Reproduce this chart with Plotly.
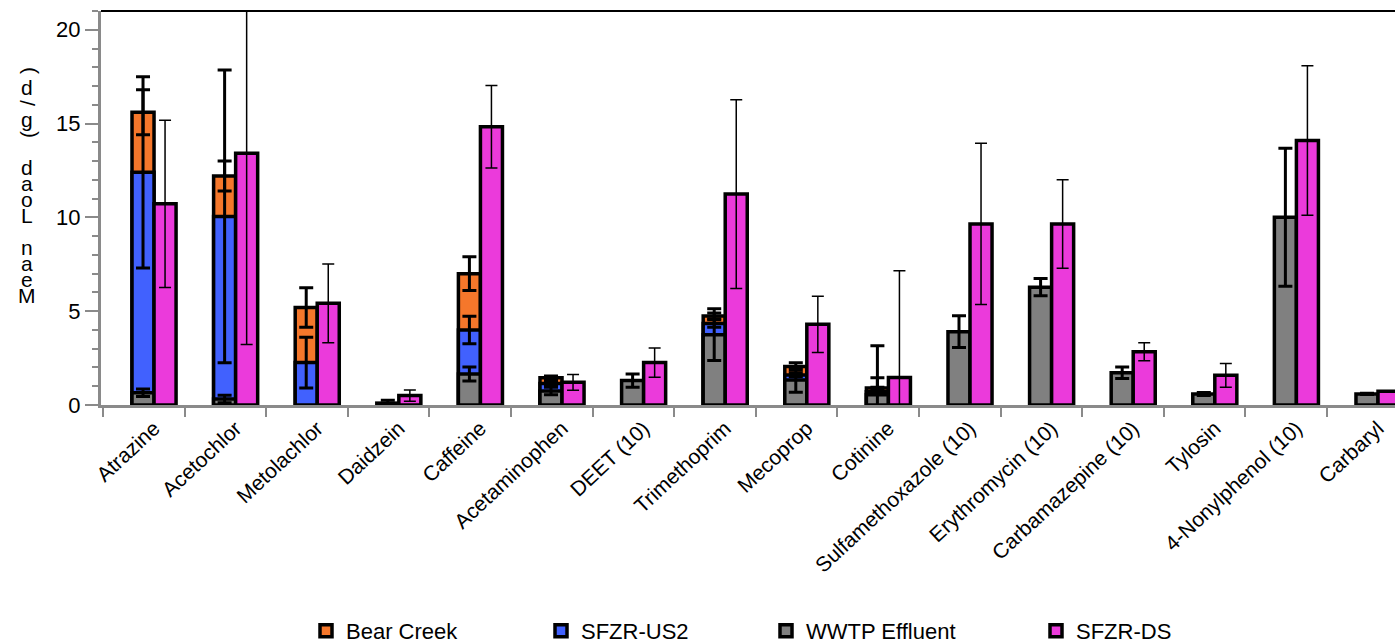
import numpy as np
import plotly.graph_objects as go

categories = ["Atrazine", "Acetochlor", "Metolachlor", "Daidzein", "Caffeine",
              "Acetaminophen", "DEET (10)", "Trimethoprim", "Mecoprop", "Cotinine",
              "Sulfamethoxazole (10)", "Erythromycin (10)", "Carbamazepine (10)",
              "Tylosin", "4-Nonylphenol (10)", "Carbaryl"]

# Bar heights (bars overlap, largest behind)
bear_creek = [15.6, 12.2, 5.2, None, 7.0, 1.45, None, 4.75, 2.05, 0.9,
              None, None, None, None, None, None]
bear_creek_err = [1.2, 0.8, 1.05, 0, 0.9, 0.1, 0, 0.15, 0.2, 0.05,
                  0, 0, 0, 0, 0, 0]

sfzr_us2 = [12.4, 10.05, 2.26, None, 4.0, 1.15, None, 4.35, 1.6, 0.7,
            None, None, None, None, None, None]
sfzr_us2_err = [5.1, 7.8, 1.35, 0, 0.73, 0.1, 0, 0.2, 0.1, 2.46,
                0, 0, 0, 0, 0, 0]

wwtp = [0.65, 0.32, None, 0.1, 1.65, 0.75, 1.3, 3.75, 1.33, 0.55,
        3.91, 6.28, 1.72, 0.59, 10.01, 0.59]
wwtp_err = [0.2, 0.2, 0, 0.15, 0.37, 0.2, 0.35, 1.38, 0.65, 0.9,
            0.85, 0.46, 0.31, 0.08, 3.68, 0.03]

sfzr_ds = [10.72, 13.42, 5.42, 0.5, 14.83, 1.21, 2.26, 11.24, 4.3, 1.46,
           9.65, 9.65, 2.84, 1.58, 14.1, 0.73]
sfzr_ds_err_plus = [4.46, 10.2, 2.1, 0.3, 2.2, 0.42, 0.78, 5.03, 1.5, 5.7,
                    4.3, 2.36, 0.48, 0.63, 3.98, 0.03]
sfzr_ds_err_minus = [4.46, 10.2, 2.1, 0.3, 2.2, 0.42, 0.78, 5.03, 1.5, 1.46,
                     4.3, 2.36, 0.48, 0.63, 3.98, 0.03]

y_ticks = [0, 5, 10, 15, 20]
y_title = "Mean Load (g/d)"

FONT = "Liberation Sans, Arial, sans-serif"
idx = np.arange(len(categories))
off = 0.135
bw = 0.27

fig = go.Figure()

def add_bar(name, x, y, err, color, thick, cap, legend, err_minus=None, clip=True):
    ey = dict(type="data", array=err, visible=True, color="black",
              thickness=thick, width=cap)
    if err_minus is not None:
        ey["symmetric"] = False
        ey["arrayminus"] = err_minus
    fig.add_trace(go.Bar(
        name=name, x=x, y=y, width=bw, showlegend=True, cliponaxis=clip,
        marker=dict(color=color, line=dict(color="black", width=3.5)),
        error_y=ey, legend=legend))

add_bar("Bear Creek", idx - off, bear_creek, bear_creek_err, "#F5772B", 3, 7, "legend2")
add_bar("SFZR-US2", idx - off, sfzr_us2, sfzr_us2_err, "#4161FE", 3, 7, "legend3")
add_bar("WWTP Effluent", idx - off, wwtp, wwtp_err, "#808080", 3, 7, "legend4")
add_bar("SFZR-DS", idx + off, sfzr_ds, sfzr_ds_err_plus, "#EB3ADB", 1.5, 6, "legend5",
        err_minus=sfzr_ds_err_minus, clip=False)

W, H = 1395, 644
L, T, B = 101, 11, 239
pw = W - L
ph = H - T - B

def px_to_paper_x(px):
    return (px - L) / pw

def py_to_paper_y(py):
    return (H - B - py) / ph

leg_common = dict(orientation="h", yanchor="middle", xanchor="left",
                  y=py_to_paper_y(631), bgcolor="rgba(0,0,0,0)",
                  font=dict(family=FONT, size=22, color="black"))

# Vertical stacked y-axis title, one character per line (bottom to top)
annotations = []
ypos = 295
for ch in y_title:
    if ch != " ":
        ang = -90 if ch in "()/" else 0
        annotations.append(dict(text=ch, x=px_to_paper_x(27), y=py_to_paper_y(ypos),
                                xref="paper", yref="paper", showarrow=False,
                                xanchor="center", yanchor="middle", textangle=ang,
                                font=dict(family=FONT, size=21, color="black")))
    ypos -= 16

fig.update_layout(
    width=W, height=H,
    margin=dict(l=L, r=0, t=T, b=B, pad=0, autoexpand=False),
    barmode="overlay",
    plot_bgcolor="white", paper_bgcolor="white",
    font=dict(family=FONT, size=22, color="black"),
    showlegend=True,
    legend2=dict(x=px_to_paper_x(306), **leg_common),
    legend3=dict(x=px_to_paper_x(541), **leg_common),
    legend4=dict(x=px_to_paper_x(766), **leg_common),
    legend5=dict(x=px_to_paper_x(1036), **leg_common),
    annotations=annotations,
    xaxis=dict(
        range=[-0.65, (W - 154) / 81.6],
        tickmode="array", tickvals=idx, ticktext=categories, tickangle=-43,
        ticks="", showgrid=False, zeroline=False,
        showline=True, linecolor="#8a8a8a", linewidth=3,
        tickfont=dict(family=FONT, size=21, color="black"),
        minor=dict(tickmode="linear", tick0=-0.625, dtick=1, ticks="outside",
                   ticklen=9, tickwidth=2, tickcolor="#8a8a8a", showgrid=False),
    ),
    yaxis=dict(
        range=[0, 21], tickvals=y_ticks, ticks="outside", ticklen=13, tickwidth=2,
        tickcolor="#8a8a8a", showgrid=False, zeroline=False,
        showline=True, linecolor="#8a8a8a", linewidth=3,
        tickfont=dict(family=FONT, size=22, color="black"),
        minor=dict(dtick=1, ticks="outside", ticklen=6, tickwidth=2,
                   tickcolor="#8a8a8a", showgrid=False),
    ),
    shapes=[dict(type="line", xref="paper", yref="paper", x0=0, x1=1, y0=1, y1=1,
                 line=dict(color="black", width=2))],
)

fig.write_html("out.html")
